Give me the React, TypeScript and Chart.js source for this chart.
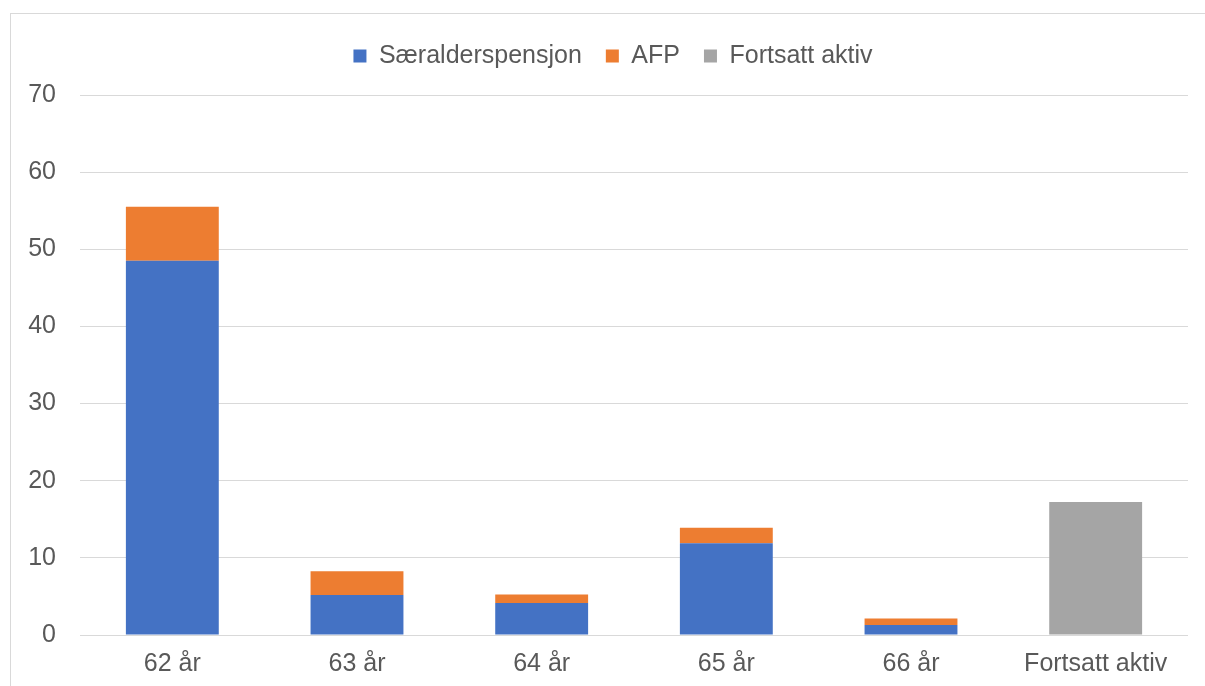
import React, { useEffect, useRef } from "react";
import { Chart, registerables } from "chart.js";

Chart.register(...registerables);

const categories = ["62 år", "63 år", "64 år", "65 år", "66 år", "Fortsatt aktiv"];
const seriesNames = ["Særalderspensjon", "AFP", "Fortsatt aktiv"];
const saeralder = [48.5, 5.2, 4.15, 11.9, 1.3, null];
const afp = [7.0, 3.05, 1.1, 2.0, 0.85, null];
const fortsatt = [null, null, null, null, null, 17.25];
const yMin = 0;
const yMax = 70;
const yStep = 10;

const FONT = "'Liberation Sans', Arial, sans-serif";
const TEXT = "#595959";

export default function App() {
  const ref = useRef<HTMLCanvasElement | null>(null);

  useEffect(() => {
    if (!ref.current) return;
    const legendTweak = {
      id: "legendTweak",
      beforeUpdate(chart: any) {
        const lg = chart.legend;
        if (lg && !lg._patched) {
          const f = lg.fit;
          lg.fit = function () {
            f.call(this);
            this.height = 75.5;
          };
          lg._patched = true;
        }
      },
      afterLayout(chart: any) {
        if (chart.legend) chart.legend.left = 38;
      },
    };
    const chart = new Chart(ref.current, {
      type: "bar",
      data: {
        labels: categories,
        datasets: [
          { label: seriesNames[0], data: saeralder, backgroundColor: "#4472C4", borderWidth: 0 },
          { label: seriesNames[1], data: afp, backgroundColor: "#ED7D31", borderWidth: 0 },
          { label: seriesNames[2], data: fortsatt, backgroundColor: "#A5A5A5", borderWidth: 0 },
        ],
      },
      options: {
        animation: false,
        responsive: false,
        devicePixelRatio: 1,
        layout: { padding: { left: 0, right: 17, top: 19.5, bottom: 0 } },
        datasets: { bar: { categoryPercentage: 1, barPercentage: 0.503 } },
        plugins: {
          legend: {
            display: true,
            position: "top",
            labels: {
              boxWidth: 13,
              boxHeight: 13,
              padding: 24,
              color: TEXT,
              font: { family: FONT, size: 25 },
            },
          },
          tooltip: { enabled: false },
        },
        scales: {
          x: {
            stacked: true,
            grid: { display: false, drawTicks: false },
            border: { display: false },
            ticks: { color: TEXT, font: { family: FONT, size: 25 }, padding: 14, maxRotation: 0, autoSkip: false },
            afterFit: (s: any) => {
              s.height = 51;
            },
          },
          y: {
            stacked: true,
            min: yMin,
            max: yMax,
            grid: { color: "#D9D9D9", lineWidth: 1, drawTicks: false },
            border: { display: false },
            ticks: { stepSize: yStep, color: TEXT, font: { family: FONT, size: 25 }, padding: 24 },
            afterFit: (s: any) => {
              s.width = 80;
            },
          },
        },
      },
      plugins: [legendTweak],
    });
    return () => chart.destroy();
  }, []);

  return (
    <div style={{ position: "fixed", left: 0, top: 0, width: 1205, height: 686, overflow: "hidden", background: "#fff" }}>
      <div
        style={{
          position: "absolute",
          left: 10,
          top: 13,
          width: 1400,
          height: 900,
          borderTop: "1px solid #D9D9D9",
          borderLeft: "1px solid #D9D9D9",
        }}
      />
      <canvas ref={ref} width={1205} height={686} style={{ position: "absolute", left: 0, top: 0, width: 1205, height: 686 }} />
    </div>
  );
}
